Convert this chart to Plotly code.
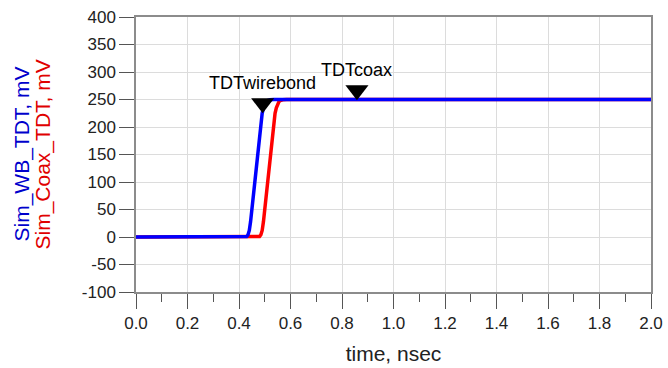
import plotly.graph_objects as go

# ---- data ----
time_wb = [0.0, 0.42, 0.43, 0.435, 0.44, 0.445, 0.45, 0.46, 0.47, 0.48, 0.49, 0.495, 0.50,
           0.505, 0.51, 0.52, 0.535, 0.55, 2.0]
sim_wb_tdt = [0, 0, 1, 4, 12, 28, 50, 100, 150, 192, 225, 235, 242,
              246, 248, 249.5, 250, 250, 250]

time_coax = [0.0, 0.47, 0.48, 0.485, 0.49, 0.495, 0.50, 0.51, 0.52, 0.53, 0.54, 0.545, 0.55,
             0.555, 0.56, 0.57, 0.585, 2.0]
sim_coax_tdt = [0, 0, 1, 4, 12, 28, 50, 100, 150, 192, 225, 235, 242,
                246, 248, 249.5, 250, 250]

# marker triangles (centre positions)
marker_names = ["TDTwirebond", "TDTcoax"]
marker_t = [0.492, 0.858]
marker_v = [243, 267]

x_ticks = [0.0, 0.2, 0.4, 0.6, 0.8, 1.0, 1.2, 1.4, 1.6, 1.8, 2.0]
x_ticklabels = ["0.0", "0.2", "0.4", "0.6", "0.8", "1.0", "1.2", "1.4", "1.6", "1.8", "2.0"]
y_ticks = [-100, -50, 0, 50, 100, 150, 200, 250, 300, 350, 400]
y_ticklabels = ["-100", "-50", "0", "50", "100", "150", "200", "250", "300", "350", "400"]

fig = go.Figure()
fig.add_trace(go.Scatter(x=time_coax, y=sim_coax_tdt, mode="lines",
                         line=dict(color="#ff0000", width=3.5),
                         showlegend=False))
fig.add_trace(go.Scatter(x=time_wb, y=sim_wb_tdt, mode="lines",
                         line=dict(color="#0000ff", width=3.5),
                         showlegend=False))
fig.add_trace(go.Scatter(x=marker_t, y=marker_v, mode="markers",
                         marker=dict(symbol="triangle-down", size=20, color="black",
                                     line=dict(width=0)),
                         showlegend=False))

for name, t, v in zip(marker_names, marker_t, marker_v):
    fig.add_annotation(x=t, y=v, xref="x", yref="y", text=name, showarrow=False,
                       yanchor="bottom", yshift=8,
                       font=dict(family="Liberation Sans, Arial", size=18, color="black"))

# y-axis titles (two coloured lines)
fig.add_annotation(x=0, y=0.5, xref="paper", yref="paper", xanchor="center", yanchor="middle",
                   xshift=-115, text="Sim_WB_TDT, mV", textangle=-90, showarrow=False,
                   font=dict(family="Liberation Sans, Arial", size=21, color="#0000cc"))
fig.add_annotation(x=0, y=0.5, xref="paper", yref="paper", xanchor="center", yanchor="middle",
                   xshift=-94, text="Sim_Coax_TDT, mV", textangle=-90, showarrow=False,
                   font=dict(family="Liberation Sans, Arial", size=21, color="#e00000"))

fig.update_xaxes(range=[0, 2], tickvals=x_ticks, ticktext=x_ticklabels, automargin=False,
                 showgrid=True, gridcolor="#dcdcdc", gridwidth=1,
                 showline=True, linecolor="#8c8c8c", linewidth=1.5, mirror=True,
                 ticks="outside", ticklen=15, tickcolor="#555555", tickwidth=1,
                 minor=dict(dtick=0.1, ticks="outside", ticklen=8, tickcolor="#555555", showgrid=False),
                 zeroline=False,
                 tickfont=dict(family="Liberation Sans, Arial", size=17, color="#222222"),
                 title=dict(text="time, nsec", standoff=14,
                            font=dict(family="Liberation Sans, Arial", size=21, color="#222222")))
fig.update_yaxes(range=[-100, 400], tickvals=y_ticks, ticktext=y_ticklabels, automargin=False,
                 showgrid=True, gridcolor="#dcdcdc", gridwidth=1,
                 showline=True, linecolor="#8c8c8c", linewidth=1.5, mirror=True,
                 ticks="outside", ticklen=15, tickcolor="#555555", tickwidth=1,
                 zeroline=False,
                 tickfont=dict(family="Liberation Sans, Arial", size=17, color="#222222"))

fig.update_layout(width=668, height=368, margin=dict(l=136, r=17, t=17, b=76),
                  paper_bgcolor="white", plot_bgcolor="white")

fig.write_html("out.html")
